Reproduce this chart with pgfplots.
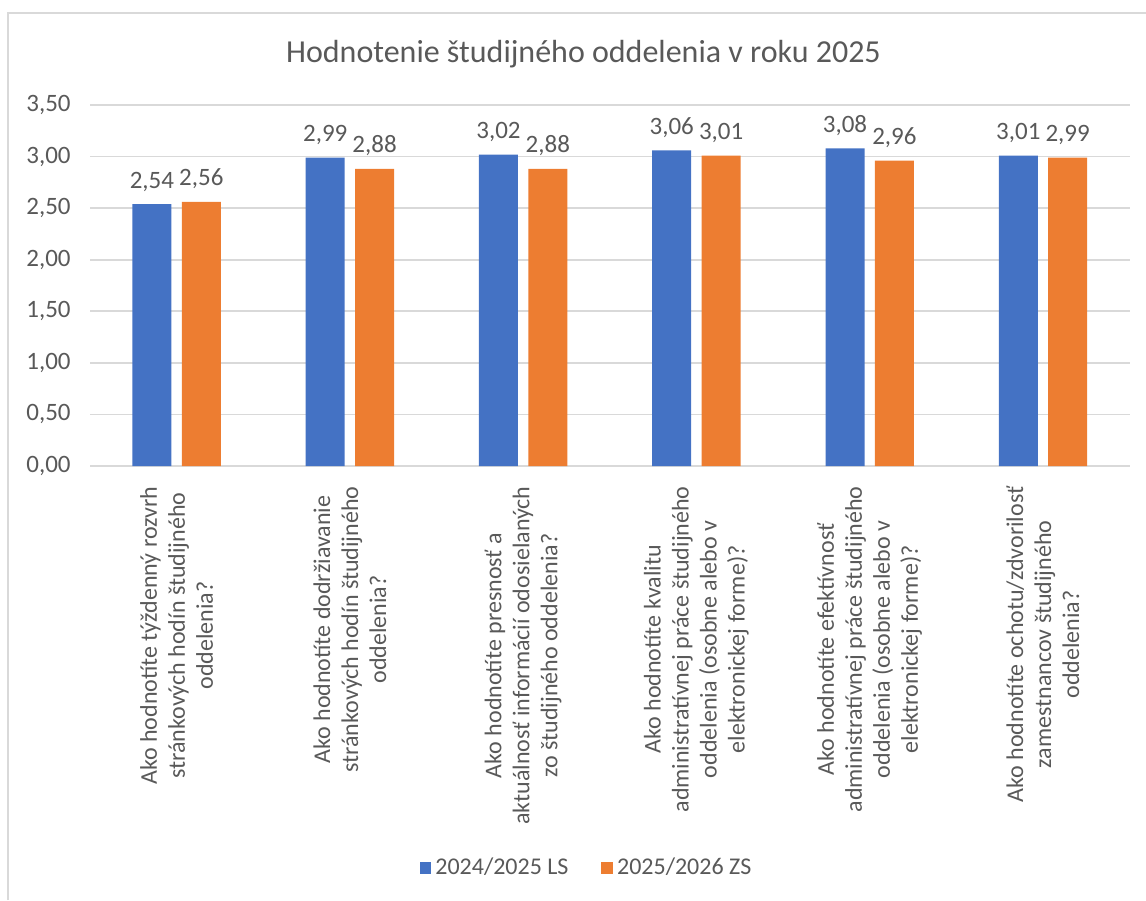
\documentclass[border=0pt]{standalone}
\usepackage{pgfplots}
\pgfplotsset{compat=1.18}
\usepackage{fontspec}
\setmainfont{Carlito}

\definecolor{txt}{HTML}{595959}
\definecolor{gridc}{HTML}{D9D9D9}
\definecolor{sblue}{HTML}{4472C4}
\definecolor{sorange}{HTML}{ED7D31}

\begin{document}
\begin{tikzpicture}[x=1pt,y=1pt]
\useasboundingbox (0,0) rectangle (573,450);
\draw[gridc, line width=1pt] (4,0) -- (4,443.5) -- (573,443.5);
\begin{axis}[
    at={(45pt,217pt)}, anchor=south west,
    scale only axis,
    width=519.8pt, height=180.5pt,
    ybar=5.2pt,
    bar width=19.5pt,
    xmin=-0.5, xmax=5.5,
    ymin=0, ymax=3.5,
    enlargelimits=false,
    ytick={0,0.5,...,3.5},
    xtick=data,
    xticklabels={
        {Ako hodnotíte týždenný rozvrh\\stránkových hodín študijného\\oddelenia?},
        {Ako hodnotíte dodržiavanie\\stránkových hodín študijného\\oddelenia?},
        {Ako hodnotíte presnosť a\\aktuálnosť informácií odosielaných\\zo študijného oddelenia?},
        {Ako hodnotíte kvalitu\\administratívnej práce študijného\\oddelenia (osobne alebo v\\elektronickej forme)?},
        {Ako hodnotíte efektívnosť\\administratívnej práce študijného\\oddelenia (osobne alebo v\\elektronickej forme)?},
        {Ako hodnotíte ochotu/zdvorilosť\\zamestnancov študijného\\oddelenia?}},
    xticklabel style={yshift=-10pt, rotate=90, anchor=east, align=center, inner sep=0pt,
        font=\fontsize{12}{14}\selectfont, text=txt},
    yticklabel style={anchor=east, inner sep=0pt, xshift=-9.5pt,
        font=\fontsize{12.5}{15}\selectfont, text=txt},
    /pgf/number format/.cd, fixed, fixed zerofill, precision=2, use comma, assume math mode=true,
    /pgfplots/.cd,
    major tick length=0pt,
    axis line style={draw=none},
    ymajorgrids,
    grid style={gridc, line width=0.8pt},
    title={Hodnotenie študijného oddelenia v roku 2025},
    title style={at={(axis description cs:0.4747,1.144)}, anchor=center, yshift=-6.5pt,
        font=\fontsize{16}{19}\selectfont, text=txt},
    nodes near coords,
    every node near coord/.append style={font=\fontsize{12.5}{15}\selectfont, text=txt,
        anchor=base, inner sep=0pt, yshift=8pt},
    legend style={draw=none, legend columns=2, at={(axis description cs:0.4786,-1.1136)},
        anchor=center, font=\fontsize{12}{14}\selectfont, text=txt,
        /tikz/every even column/.append style={column sep=14.5pt}},
    legend image code/.code={\fill[#1] (0pt,-2.9pt) rectangle (5.8pt,2.9pt);},
]
\addplot[fill=sblue, draw=none] coordinates {(0,2.54) (1,2.99) (2,3.02) (3,3.06) (4,3.08) (5,3.01)};
\addplot[fill=sorange, draw=none] coordinates {(0,2.56) (1,2.88) (2,2.88) (3,3.01) (4,2.96) (5,2.99)};
\legend{2024/2025 LS, 2025/2026 ZS}
\end{axis}
\end{tikzpicture}
\end{document}
